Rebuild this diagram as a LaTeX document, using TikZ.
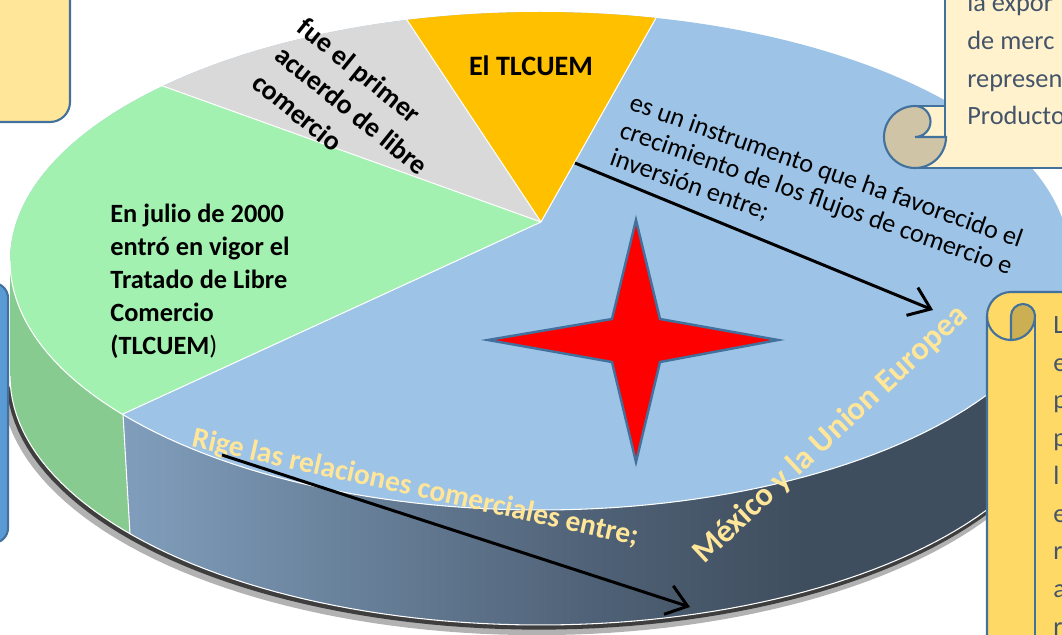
\documentclass[tikz,border=0pt]{standalone}
\usepackage{fontspec}
\setmainfont{Carlito}
\usetikzlibrary{arrows.meta}

\definecolor{topblue}{HTML}{9DC3E6}
\definecolor{topgreen}{HTML}{A3F1B1}
\definecolor{topgray}{HTML}{D9D9D9}
\definecolor{toporange}{HTML}{FFC000}
\definecolor{sidegreen}{HTML}{88CB90}
\definecolor{sidelight}{HTML}{809EBC}
\definecolor{sidemid}{HTML}{4F6176}
\definecolor{sidedark}{HTML}{3F4E5E}
\definecolor{starred}{HTML}{FF0000}
\definecolor{shapeline}{HTML}{41719C}
\definecolor{creamtext}{HTML}{FFE699}
\definecolor{scrolltext}{HTML}{44546A}
\definecolor{notepale}{HTML}{FFF2CC}
\definecolor{notecurlpale}{HTML}{CFC4A6}
\definecolor{notegold}{HTML}{FFD966}
\definecolor{notecurlgold}{HTML}{CCAF52}
\definecolor{noteyellow}{HTML}{FFE699}
\definecolor{noteblue}{HTML}{5B9BD5}

\pgfdeclarehorizontalshading{sideshade}{100bp}{color(0bp)=(sidelight); color(25bp)=(sidelight); color(50bp)=(sidemid); color(61bp)=(sidedark); color(100bp)=(sidedark)}

\tikzset{
  sliceline/.style={white, line width=0.6pt},
  note/.style={draw=shapeline, line width=1.2pt},
  bigarrow/.style={line width=1.7pt, -{Straight Barb[length=4mm,width=6mm]}},
  piebold/.style={font=\bfseries\fontsize{15}{18.8}\selectfont, align=left, inner sep=0pt},
  pieplain/.style={font=\fontsize{14.9}{16.6}\selectfont, align=left, inner sep=0pt},
  pielabel/.style={text=creamtext, inner sep=0pt},
  scrollnote/.style={text=scrolltext, font=\fontsize{15}{21.5}\selectfont, align=left, inner sep=0pt},
  starshape/.style={fill=starred, draw=shapeline, line width=1.4pt, line join=miter}
}

\begin{document}
\begin{tikzpicture}[x=0.02cm, y=-0.02cm]
\useasboundingbox (0,0) rectangle (1062,635);
\clip (0,0) rectangle (1062,635);

\coordinate (apex) at (541,222);
\coordinate (gray green) at (160,85);
\coordinate (gray orange) at (407,20);
\coordinate (orange blue) at (656,18);
\coordinate (green blue) at (123,414);
\coordinate (green blue low) at (130,534);

% side of the pie
\draw [black, opacity=.3, line width=7pt] plot [domain=178:20, samples=80] ({537+530*cos(\x)}, {380+249*sin(\x)});
\draw [black, opacity=.65, line width=3pt] plot [domain=178:20, samples=80] ({539+530*cos(\x)}, {378+249*sin(\x)});
\fill [sidegreen] plot [domain=180:141.9, samples=30] ({540+530*cos(\x)}, {261+249*sin(\x)})
  -- plot [domain=140.7:180, samples=30] ({540+530*cos(\x)}, {376+249*sin(\x)}) -- cycle;
\shade [shading=sideshade] plot [domain=141.9:0, samples=80] ({540+530*cos(\x)}, {261+249*sin(\x)})
  -- plot [domain=0:140.7, samples=80] ({540+530*cos(\x)}, {376+249*sin(\x)}) -- cycle;
\draw [sliceline] plot [domain=180:0, samples=100] ({540+530*cos(\x)}, {376+249*sin(\x)});

% top of the pie
\begin{scope}
\clip (540,261) ellipse [x radius=530, y radius=249];
\fill [topblue] (0,0) rectangle (1080,520);
\fill [topgreen] (apex) -- (-713,798) -- (-1500,300) -- (-602,-189) -- cycle;
\fill [topgray] (apex) -- (-602,-189) -- (139,-384) -- cycle;
\fill [toporange] (apex) -- (139,-384) -- (886,-390) -- cycle;
\end{scope}
\draw [sliceline] plot [domain=180:0, samples=100] ({540+530*cos(\x)}, {261+249*sin(\x)});
\draw [sliceline] (green blue) -- (green blue low);
\draw [sliceline] (apex) -- (gray green);
\draw [sliceline] (apex) -- (gray orange);
\draw [sliceline] (apex) -- (orange blue);
\draw [sliceline] (apex) -- (green blue);

\draw [starshape] (636,220) -- (660,319) -- (778,340) -- (660,362) -- (636,462)
  -- (612,362) -- (488,340) -- (612,319) -- cycle;

\node [piebold, font=\bfseries\fontsize{16}{19}\selectfont] (tlcuem) at (531,66) {El TLCUEM};
\node [piebold, font=\bfseries\fontsize{15.8}{20.4}\selectfont, rotate=-39, anchor=north west]
  (primer) at (308,15) {fue el primer\\acuerdo de libre\\comercio};
\node [piebold, anchor=north west] (julio) at (110,204)
  {En julio de 2000\\entró en vigor el\\Tratado de Libre\\Comercio\\(TLCUEM{\mdseries)}};
\node [pieplain, rotate=-19.5, anchor=north west] (instrumento) at (634,92)
  {es un instrumento que ha favorecido el\\crecimiento de los flujos de comercio e\\inversión entre;};
\node [pielabel, font=\bfseries\fontsize{16.8}{19}\selectfont, rotate=-12.5, anchor=north west]
  (rige) at (195,426) {Rige las relaciones comerciales entre;};
\node [pielabel, font=\bfseries\fontsize{18.6}{21}\selectfont, rotate=43, anchor=base west]
  (mexico) at (704,565) {México y la Union Europea};

\coordinate (instr start) at (575,163);
\coordinate (instr end) at (933,310);
\coordinate (rige start) at (222,455);
\coordinate (rige end) at (690,607);
\draw [bigarrow] (instr start) -- (instr end);
\draw [bigarrow] (rige start) -- (rige end);

% notes round the pie
\draw [note, fill=noteyellow, rounded corners=0.4cm] (-40,-40) rectangle (70,122);
\draw [note, fill=noteblue, rounded corners=0.3cm] (-40,283) rectangle (8,543);

\fill [notepale] (945,-10) -- (1075,-10) -- (1075,168) -- (915,168) -- (915,106) -- (945,106) -- cycle;
\draw [note] (945,-10) -- (945,137);
\draw [note] (915,106) -- (945,106);
\draw [note] (915,168) -- (1075,168);
\draw [note, fill=notecurlpale] (915,106) arc [start angle=270, end angle=0, radius=31]
  -- (915,137) arc [start angle=90, end angle=-90, radius=15.5] -- cycle;
\node [scrollnote, anchor=north west] (pale text) at (967,-7) {la expor\\de merc\\represen\\Producto};

\draw [note, fill=notegold] (987,650) -- (987,316) arc [start angle=180, end angle=270, radius=24]
  -- (1075,292) -- (1075,650) -- cycle;
\draw [note] (987,316) arc [start angle=180, end angle=90, radius=24];
\draw [note] (1035,316) -- (1035,650);
\draw [note, fill=notecurlgold] (1011,316) arc [start angle=180, end angle=360, radius=12]
  arc [start angle=0, end angle=90, radius=24] -- cycle;
\node [scrollnote, anchor=north west] (gold text) at (1053,316) {L\\e\\p\\p\\l\\e\\r\\a\\r};
\end{tikzpicture}
\end{document}
